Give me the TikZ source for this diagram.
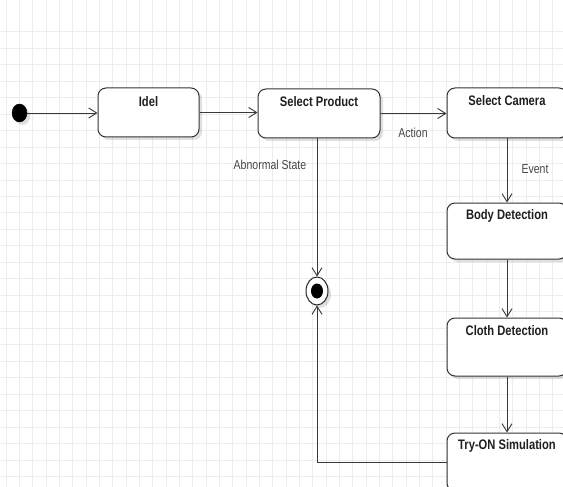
\documentclass[tikz,border=0pt]{standalone}
\usepackage{fontspec}
\setmainfont{Liberation Sans}
\usetikzlibrary{arrows.meta,shadows,shapes.geometric}
\newcommand\narrowtxt[1]{\scalebox{0.81}[1]{#1}}
\begin{document}
\begin{tikzpicture}[x=1pt,y=-1pt,
  gridline/.style={draw=black!7, line width=0.8pt},
  shad/.style={drop shadow={shadow xshift=3pt, shadow yshift=-3pt, opacity=0.12, fill=black}},
  box/.style={draw=black!80, line width=1pt, rounded corners=8pt, fill=white, inner sep=0pt, shad},
  title/.style={font=\fontsize{13.8}{16}\selectfont\bfseries, text=black!88, inner sep=0pt},
  lbl/.style={font=\fontsize{13}{15}\selectfont, text=black!72, inner sep=0pt},
  conn/.style={draw=black!78, line width=0.9pt, -{Straight Barb[length=8pt,width=10pt,line width=0.9pt]}},
  initst/.style={ellipse, fill=black, draw=black, minimum width=15pt, minimum height=18pt, inner sep=0pt, shad},
  finalout/.style={ellipse, draw=black!85, line width=1pt, fill=white, minimum width=22pt, minimum height=28pt, inner sep=0pt, shad},
  finalin/.style={ellipse, fill=black, minimum width=12pt, minimum height=15pt, inner sep=0pt}
]
\useasboundingbox (0,0) rectangle (563,487);
\clip (0,0) rectangle (563,487);
\fill[white] (0,0) rectangle (563,487);
% grid
\foreach \i in {0,...,42} \draw[gridline] ({6+13.333*\i},0) -- ({6+13.333*\i},487);
\foreach \j in {1,...,28} \draw[gridline] (0,{15.23+16.47*\j}) -- (563,{15.23+16.47*\j});

% states
\node[initst] (init) at (19.5,113) {};
\node[box, minimum width=101pt, minimum height=49pt] (idel) at (148.5,112.5) {};
\node[title] (idelT) at ([yshift=-14.5pt]idel.north) {\narrowtxt{Idel}};
\node[box, minimum width=122pt, minimum height=49pt] (sp) at (319,113.5) {};
\node[title] (spT) at ([yshift=-13.5pt]sp.north) {\narrowtxt{Select Product}};
\node[box, minimum width=120pt, minimum height=50pt] (sc) at (507,113) {};
\node[title] (scT) at ([yshift=-13.5pt]sc.north) {\narrowtxt{Select Camera}};
\node[box, minimum width=120pt, minimum height=56pt] (bd) at (507,231) {};
\node[title] (bdT) at ([yshift=-13.5pt]bd.north) {\narrowtxt{Body Detection}};
\node[box, minimum width=120pt, minimum height=58pt] (cd) at (507,347) {};
\node[title] (cdT) at ([yshift=-13.5pt]cd.north) {\narrowtxt{Cloth Detection}};
\node[box, minimum width=120pt, minimum height=58pt] (try) at (507,462) {};
\node[title] (tryT) at ([yshift=-13.5pt]try.north) {\narrowtxt{Try-ON Simulation}};

\node[finalout] (fs) at (317,291) {};
\node[finalin] (fsin) at (317,291) {};

% connectors
\draw[conn] (init.east) -- (init.east -| idel.west);
\draw[conn] (idel.east) -- (idel.east -| sp.west);
\draw[conn] (sp.east) -- (sp.east -| sc.west);
\draw[conn] (sc.south) -- (bd.north);
\draw[conn] (bd.south) -- (cd.north);
\draw[conn] (cd.south) -- (try.north);
\draw[conn] (sp.south -| fs.north) -- (fs.north);
\draw[conn] (try.west) -| (fs.south);

% labels
\node[lbl] (act) at (413,133) {\narrowtxt{Action}};
\node[lbl] (abn) at (270,165) {\narrowtxt{Abnormal State}};
\node[lbl] (evt) at (535,169) {\narrowtxt{Event}};
\end{tikzpicture}
\end{document}
